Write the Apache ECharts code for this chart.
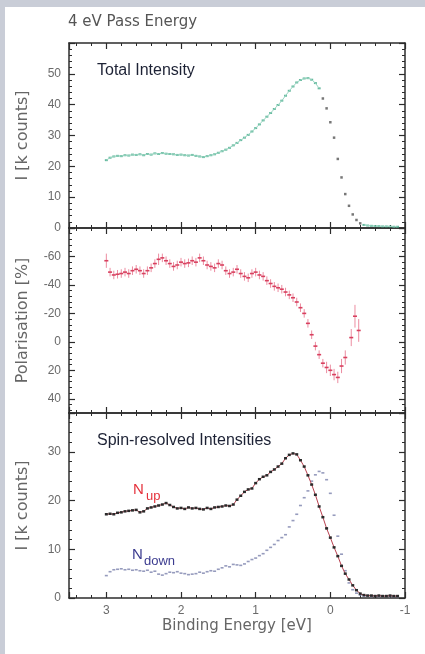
<!DOCTYPE html>
<html>
<head>
<meta charset="utf-8">
<title>4 eV Pass Energy</title>
<script src="https://cdn.jsdelivr.net/npm/echarts@6/dist/echarts.min.js"></script>
<style>
html, body { margin: 0; padding: 0; background: #fff; }
#chart { width: 425px; height: 654px; }
</style>
</head>
<body>
<div id="chart"></div>
<script>
// binding energy grid [eV] for the intensity curves
var energy = [
  3.00, 2.95, 2.90, 2.85, 2.80, 2.75, 2.70, 2.65, 2.60, 2.55,
  2.50, 2.45, 2.40, 2.35, 2.30, 2.25, 2.20, 2.15, 2.10, 2.05,
  2.00, 1.95, 1.90, 1.85, 1.80, 1.75, 1.70, 1.65, 1.60, 1.55,
  1.50, 1.45, 1.40, 1.35, 1.30, 1.25, 1.20, 1.15, 1.10, 1.05,
  1.00, 0.95, 0.90, 0.85, 0.80, 0.75, 0.70, 0.65, 0.60, 0.55,
  0.50, 0.45, 0.40, 0.35, 0.30, 0.25, 0.20, 0.15, 0.10, 0.05,
  0.00, -0.05, -0.10, -0.15, -0.20, -0.25, -0.30, -0.35, -0.40, -0.45,
  -0.50, -0.55, -0.60, -0.65, -0.70, -0.75, -0.80, -0.85, -0.90
];

// total intensity [k counts]
var totalInt = [
  22.0, 22.8, 23.2, 23.4, 23.3, 23.6, 23.5, 23.8, 23.7, 23.9,
  23.6, 24.0, 23.8, 24.2, 24.0, 24.3, 24.1, 24.0, 23.9, 23.7,
  23.8, 23.6, 23.5, 23.7, 23.4, 23.2, 23.0, 23.3, 23.6, 23.9,
  24.4, 24.9, 25.4, 26.0, 26.8, 27.6, 28.5, 29.3, 30.2, 31.3,
  32.4, 33.6, 34.9, 36.1, 37.3, 38.6, 39.9, 41.3, 42.9, 44.5,
  45.9, 47.2, 48.0, 48.5, 48.6, 48.1, 47.0, 45.3, 42.0, 38.8,
  34.3, 29.3, 22.4, 16.4, 11.0, 7.2, 4.4, 2.6, 1.5, 1.0,
  0.8, 0.7, 0.6, 0.6, 0.5, 0.5, 0.5, 0.4, 0.4
];

// spin up / spin down intensities [k counts]
var nUp = [
  17.2, 17.3, 17.2, 17.5, 17.6, 17.8, 17.9, 18.0, 18.1, 17.6,
  17.8, 18.4, 18.6, 18.8, 19.0, 19.2, 19.5, 19.1, 18.7, 18.4,
  18.5, 18.3, 18.6, 18.4, 18.5, 18.3, 18.2, 18.5, 18.3, 18.6,
  18.7, 18.8, 19.0, 18.9, 19.2, 20.2, 21.0, 21.8, 22.3, 22.5,
  23.6, 24.4, 24.9, 25.2, 25.9, 26.4, 27.0, 27.6, 28.7, 29.4,
  29.7, 29.5, 28.3, 27.0, 25.2, 23.3, 21.2, 18.8, 16.6, 14.3,
  12.4, 10.4, 8.6, 6.6, 5.0, 3.8, 2.6, 1.6, 0.9, 0.6,
  0.5, 0.5, 0.4, 0.5, 0.4, 0.4, 0.5, 0.4, 0.4
];
var nDown = [
  4.6, 5.4, 5.8, 5.9, 6.0, 5.8, 5.9, 5.7, 5.8, 5.6,
  5.5, 5.7, 5.3, 5.5, 4.9, 4.7, 5.0, 5.3, 5.2, 5.4,
  5.1, 5.0, 4.8, 4.9, 5.0, 5.3, 5.1, 5.4, 5.6, 5.5,
  5.9, 6.2, 6.6, 6.4, 6.9, 6.8, 6.7, 7.0, 7.5, 7.9,
  8.2, 8.7, 9.1, 9.8, 10.4, 11.0, 11.8, 12.4, 13.0, 14.6,
  15.9, 17.2, 19.0, 20.6, 22.0, 24.0, 25.3, 26.0, 25.7, 24.3,
  21.5, 17.0, 12.7, 9.0, 5.6, 3.1, 1.7, 1.0, 0.6, 0.4,
  0.4, 0.3, 0.4, 0.3, 0.3, 0.4, 0.3, 0.3, 0.3
];

// polarisation [%] with error bars
var polEnergy = [
  3.00, 2.95, 2.90, 2.85, 2.80, 2.75, 2.70, 2.65, 2.60, 2.55,
  2.50, 2.45, 2.40, 2.35, 2.30, 2.25, 2.20, 2.15, 2.10, 2.05,
  2.00, 1.95, 1.90, 1.85, 1.80, 1.75, 1.70, 1.65, 1.60, 1.55,
  1.50, 1.45, 1.40, 1.35, 1.30, 1.25, 1.20, 1.15, 1.10, 1.05,
  1.00, 0.95, 0.90, 0.85, 0.80, 0.75, 0.70, 0.65, 0.60, 0.55,
  0.50, 0.45, 0.40, 0.35, 0.30, 0.25, 0.20, 0.15, 0.10, 0.05,
  0.00, -0.05, -0.10, -0.15, -0.20,
  -0.28, -0.33, -0.38
];
var polarisation = [
  -57, -49, -47, -47.5, -48, -49, -48, -50, -51, -50,
  -48, -50, -52, -55, -58, -59, -57, -55, -53, -54,
  -56, -55, -55.5, -57, -56, -59, -57, -54, -53, -52,
  -55, -54, -50, -48, -49, -51, -48, -46, -45, -48,
  -49, -47, -46, -43, -41, -39, -38, -37, -35, -33,
  -31, -28, -24, -20, -13, -5, 3, 9, 15, 18,
  20, 23, 25, 17, 11,
  -3, -18, -8
];
var polError = [
  5, 3, 3, 3, 3, 3, 3, 3, 3, 3,
  3, 3, 3, 3, 4, 3, 3, 3, 3, 3,
  3, 3, 3, 3, 3, 3, 3, 3, 3, 3,
  3, 3, 3, 3, 3, 3, 3, 3, 3, 3,
  3, 3, 3, 3, 3, 3, 3, 3, 3, 3,
  3, 3, 3, 3, 3, 3, 3, 3, 3, 4,
  4, 4, 4, 5, 5,
  6, 8, 8
];

// tick labels
var xTicks = [3, 2, 1, 0, -1];
var totalTicks = [0, 10, 20, 30, 40, 50];
var polTicks = [-60, -40, -20, 0, 20, 40];
var spinTicks = [0, 10, 20, 30];

var FONT = '"Liberation Sans", Arial, sans-serif';
var WIDE = '"DejaVu Sans", sans-serif';
var frameColor = '#2c2c2c';
var labelColor = '#6a6a6a';

var panels = [
  { top: 43, min: 0, max: 60, step: 10, minor: 2, labels: totalTicks, inverse: false, name: 'I [k counts]' },
  { top: 228, min: -80, max: 50, step: 20, minor: 4, labels: polTicks, inverse: true, name: 'Polarisation [%]' },
  { top: 413, min: 0, max: 38, step: 10, minor: 2, labels: spinTicks, inverse: false, name: 'I [k counts]' }
];

var grids = [], xAxes = [], yAxes = [];
panels.forEach(function (p, i) {
  var last = i === panels.length - 1;
  grids.push({ left: 69, top: p.top, width: 336, height: 185, outerBoundsMode: 'none' });
  ['bottom', 'top'].forEach(function (pos) {
    var withLabel = pos === 'bottom' && last;
    xAxes.push({
      type: 'value', gridIndex: i, position: pos, min: -1, max: 3.5, interval: 1, inverse: true,
      axisLine: { show: true, onZero: false, lineStyle: { color: frameColor, width: 1.5 } },
      axisTick: { show: true, inside: true, length: 6, lineStyle: { color: frameColor, width: 1.2 } },
      axisLabel: withLabel ? {
        show: true, customValues: xTicks, margin: 7, color: labelColor, fontSize: 12, fontFamily: FONT
      } : { show: false },
      splitLine: { show: false },
      name: withLabel ? 'Binding Energy [eV]' : '',
      nameLocation: 'middle', nameGap: 21,
      nameTextStyle: { color: '#666', fontSize: 15, fontFamily: WIDE }
    });
    xAxes.push({
      type: 'value', gridIndex: i, position: pos, min: -1, max: 3.5, interval: 0.2, inverse: true,
      axisLine: { show: false, onZero: false },
      axisTick: { show: true, inside: true, length: 3, lineStyle: { color: frameColor, width: 1 } },
      axisLabel: { show: false },
      splitLine: { show: false }
    });
  });
  ['left', 'right'].forEach(function (pos) {
    var withLabel = pos === 'left';
    yAxes.push({
      type: 'value', gridIndex: i, position: pos, min: p.min, max: p.max, interval: p.step, inverse: p.inverse,
      axisLine: { show: true, onZero: false, lineStyle: { color: frameColor, width: 1.5 } },
      axisTick: { show: true, inside: true, length: 6, lineStyle: { color: frameColor, width: 1.2 } },
      axisLabel: withLabel ? {
        show: true, customValues: p.labels, margin: 8, color: labelColor, fontSize: 12, fontFamily: FONT
      } : { show: false },
      splitLine: { show: false },
      name: withLabel ? p.name : '',
      nameLocation: 'middle', nameGap: 38, nameRotate: 90,
      nameTextStyle: { color: '#666', fontSize: 16, fontFamily: WIDE }
    });
    yAxes.push({
      type: 'value', gridIndex: i, position: pos, min: p.min, max: p.max, interval: p.minor, inverse: p.inverse,
      axisLine: { show: false, onZero: false },
      axisTick: { show: true, inside: true, length: 3, lineStyle: { color: frameColor, width: 1 } },
      axisLabel: { show: false },
      splitLine: { show: false }
    });
  });
});

// the steep Fermi edge of the total intensity is drawn in dark grey
function onEdge(e) { return e < 0.125 && e > -0.425; }

var totalLine = energy.map(function (e, i) { return onEdge(e) ? [e, '-'] : [e, totalInt[i]]; });
var totalGreen = [], totalEdge = [];
energy.forEach(function (e, i) {
  (onEdge(e) ? totalEdge : totalGreen).push([e, totalInt[i]]);
});

function renderPol(params, api) {
  var x = api.value(0), y = api.value(1), err = api.value(2);
  var c = api.coord([x, y]);
  var lo = api.coord([x, y - err]);
  var hi = api.coord([x, y + err]);
  return {
    type: 'group',
    children: [
      { type: 'line', shape: { x1: c[0], y1: lo[1], x2: c[0], y2: hi[1] },
        style: { stroke: '#ec8ca0', lineWidth: 1 } },
      { type: 'line', shape: { x1: c[0] - 2, y1: c[1], x2: c[0] + 2, y2: c[1] },
        style: { stroke: '#d8405f', lineWidth: 1.6 } }
    ]
  };
}

var myChart = echarts.init(document.getElementById('chart'));
myChart.setOption({
  animation: false,
  backgroundColor: '#fff',
  grid: grids,
  xAxis: xAxes,
  yAxis: yAxes,
  graphic: [
    { type: 'rect', left: 0, top: 0, shape: { width: 5, height: 654 }, style: { fill: '#c9cdd7' }, z: 0 },
    { type: 'rect', left: 0, top: 0, shape: { width: 425, height: 7 }, style: { fill: '#c9cdd7' }, z: 0 },
    { type: 'text', x: 68, y: 15, style: { text: '4 eV Pass Energy', fill: '#555', font: '15px ' + WIDE } },
    { type: 'text', x: 97, y: 63, style: { text: 'Total Intensity', fill: '#1d2235', font: '16px ' + FONT } },
    { type: 'text', x: 97, y: 433, style: { text: 'Spin-resolved Intensities', fill: '#1d2235', font: '16px ' + FONT } },
    { type: 'text', x: 133, y: 482, style: { text: 'N', fill: '#e5323c', font: '15px ' + FONT } },
    { type: 'text', x: 146, y: 490, style: { text: 'up', fill: '#e5323c', font: '13px ' + FONT } },
    { type: 'text', x: 132, y: 547, style: { text: 'N', fill: '#3b3b8f', font: '15px ' + FONT } },
    { type: 'text', x: 144, y: 555, style: { text: 'down', fill: '#3b3b8f', font: '13px ' + FONT } }
  ],
  series: [
    {
      name: 'Total', type: 'line', xAxisIndex: 0, yAxisIndex: 0,
      data: totalLine, symbol: 'none', connectNulls: false,
      lineStyle: { color: '#9ad6c2', width: 1 }
    },
    {
      name: 'Total points', type: 'scatter', xAxisIndex: 0, yAxisIndex: 0,
      data: totalGreen, symbol: 'rect', symbolSize: [3, 2],
      itemStyle: { color: '#3fa886' }
    },
    {
      name: 'Total edge', type: 'scatter', xAxisIndex: 0, yAxisIndex: 0,
      data: totalEdge, symbol: 'rect', symbolSize: [2.5, 2.5],
      itemStyle: { color: '#555' }
    },
    {
      name: 'Polarisation', type: 'custom', xAxisIndex: 4, yAxisIndex: 4,
      data: polEnergy.map(function (e, i) { return [e, polarisation[i], polError[i]]; }),
      encode: { x: 0, y: 1 },
      renderItem: renderPol,
      clip: true
    },
    {
      name: 'N down', type: 'scatter', xAxisIndex: 8, yAxisIndex: 8,
      data: energy.map(function (e, i) { return [e, nDown[i]]; }),
      symbol: 'rect', symbolSize: [3, 1.6],
      itemStyle: { color: '#7c82ad' }
    },
    {
      name: 'N up', type: 'line', xAxisIndex: 8, yAxisIndex: 8,
      data: energy.map(function (e, i) { return [e, nUp[i]]; }),
      showSymbol: true, showAllSymbol: true, symbol: 'rect', symbolSize: [3, 2.5],
      itemStyle: { color: '#2a2a2a' },
      lineStyle: { color: '#b8404f', width: 1 }
    }
  ]
});
</script>
</body>
</html>
